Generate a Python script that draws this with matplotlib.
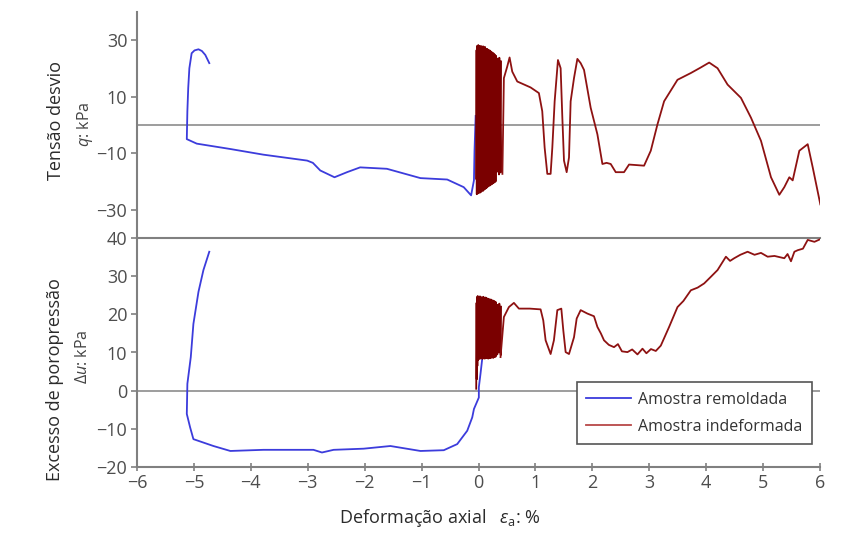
import matplotlib
matplotlib.use("Agg")
import matplotlib.pyplot as plt
from matplotlib.lines import Line2D

plt.rcParams['font.family'] = ['Open Sans', 'DejaVu Sans']
plt.rcParams['mathtext.fontset'] = 'custom'
plt.rcParams['mathtext.rm'] = 'Open Sans'
plt.rcParams['mathtext.it'] = 'Open Sans:italic'

# ---------------- data ----------------
# Remolded sample (blue) - deviator stress q (kPa) vs axial strain (%)
rem_q_eps = [-4.73, -4.80, -4.86, -4.92, -4.99, -5.04, -5.08, -5.10, -5.115, -5.125,
             -4.95, -4.36, -3.78, -3.01, -2.91, -2.78, -2.53, -2.31, -2.08, -1.61,
             -1.02, -0.55, -0.26, -0.13, -0.08, -0.07, -0.05]
rem_q = [21.9, 24.8, 26.2, 26.8, 26.4, 25.4, 20.1, 13.1, 4.9, -5.0,
         -6.6, -8.5, -10.5, -12.6, -13.4, -16.1, -18.5, -16.7, -15.0, -15.5,
         -18.8, -19.3, -22.0, -24.9, -19.6, -9.1, 3.2]

# Remolded sample (blue) - excess pore pressure du (kPa)
rem_u_eps = [-4.73, -4.833, -4.92, -5.009, -5.055, -5.115, -5.125, -5.067, -5.009, -4.657,
             -4.36, -3.78, -2.90, -2.75, -2.546, -2.018, -1.548, -1.02, -0.61, -0.374,
             -0.198, -0.11, -0.08, 0.006, 0.006, 0.035, 0.065]
rem_u = [36.4, 31.6, 25.9, 17.5, 8.8, 1.8, -6.1, -9.6, -12.7, -14.5,
         -15.8, -15.5, -15.5, -16.2, -15.5, -15.2, -14.5, -15.8, -15.6, -14.0,
         -10.5, -7.0, -4.8, -1.8, 0.9, 4.4, 8.3]

# Undisturbed sample (red) - cyclic phase: strain at each cycle, peaks and troughs
cyc_eps = [-0.04, -0.03, -0.02, -0.01, 0.00, 0.01, 0.02, 0.03, 0.04, 0.05,
           0.06, 0.07, 0.08, 0.09, 0.10, 0.11, 0.12, 0.13, 0.14, 0.15,
           0.16, 0.17, 0.18, 0.19, 0.20, 0.21, 0.22, 0.23, 0.24, 0.25,
           0.26, 0.27, 0.28, 0.29, 0.30, 0.33, 0.36, 0.39]
cyc_q_max = [26.5, 28.0, 27.0, 28.3, 27.2, 27.8, 28.0, 26.8, 27.5, 27.9,
             26.9, 27.4, 27.8, 26.5, 27.2, 27.6, 26.8, 27.0, 26.2, 26.9,
             26.4, 25.8, 26.5, 25.9, 26.3, 25.4, 25.9, 25.2, 25.6, 24.8,
             25.3, 24.6, 24.9, 24.2, 24.5, 23.5, 23.8, 22.5]
cyc_q_min = [-19.0, -24.5, -23.8, -24.2, -23.5, -24.0, -23.2, -23.9, -22.8, -23.6,
             -23.0, -22.5, -23.3, -22.2, -22.9, -21.8, -22.6, -21.5, -22.3, -21.2,
             -21.9, -21.0, -21.6, -20.8, -21.4, -20.5, -21.1, -20.3, -20.9, -20.0,
             -20.6, -19.8, -20.3, -19.5, -20.0, -16.5, -17.5, -16.8]
cyc_u_max = [23.0, 24.5, 24.8, 24.2, 24.6, 24.0, 24.7, 24.3, 24.5, 23.9,
             24.4, 24.1, 24.6, 23.8, 24.3, 24.0, 24.4, 23.7, 24.2, 23.9,
             24.1, 23.6, 24.0, 23.8, 23.5, 23.9, 23.4, 23.7, 23.3, 23.6,
             23.2, 23.5, 23.0, 23.3, 23.1, 22.5, 22.8, 22.0]
cyc_u_min = [0.5, 3.0, 6.5, 8.0, 8.6, 8.3, 8.8, 8.4, 8.9, 8.5,
             8.7, 8.3, 8.8, 8.6, 8.9, 8.4, 8.7, 8.5, 8.9, 8.6,
             8.8, 8.4, 8.7, 8.9, 8.5, 8.8, 8.6, 9.0, 8.7, 8.9,
             8.6, 9.0, 8.8, 9.1, 8.9, 9.5, 10.0, 9.3]

# Undisturbed sample (red) - monotonic phase, q
und_q_eps = [0.42, 0.446, 0.505, 0.546, 0.593, 0.681, 0.915, 1.061, 1.12, 1.162,
             1.209, 1.267, 1.297, 1.338, 1.396, 1.443, 1.473, 1.502, 1.549, 1.590,
             1.619, 1.678, 1.737, 1.795, 1.854, 1.971, 2.089, 2.177, 2.250, 2.323,
             2.411, 2.557, 2.645, 2.78, 2.909, 3.027, 3.144, 3.261, 3.496, 3.731,
             3.90, 4.053, 4.200, 4.376, 4.611, 4.787, 4.963, 5.139, 5.285, 5.373,
             5.461, 5.520, 5.637, 5.784, 5.872, 6.006]
und_q = [-17.3, 16.6, 20.7, 23.9, 18.9, 15.4, 13.3, 11.3, 4.9, -8.0,
         -17.3, -17.3, -8.0, 8.4, 23.0, 20.1, 2.6, -12.6, -16.7, -11.5,
         8.4, 16.6, 23.4, 21.9, 19.5, 6.1, -3.3, -13.8, -13.4, -13.8,
         -16.7, -16.7, -14.0, -14.2, -14.4, -9.1, 0.2, 8.4, 16.0, 18.4,
         20.3, 22.1, 20.1, 14.3, 9.6, 2.6, -5.6, -18.5, -24.7, -22.0,
         -18.5, -19.6, -9.1, -6.8, -15.0, -28.1]

# Undisturbed sample (red) - monotonic phase, du
und_u_eps = [0.387, 0.446, 0.534, 0.622, 0.710, 0.90, 1.091, 1.138, 1.179, 1.267,
             1.325, 1.385, 1.455, 1.490, 1.531, 1.590, 1.678, 1.725, 1.795, 1.913,
             2.029, 2.089, 2.15, 2.205, 2.29, 2.381, 2.45, 2.52, 2.617, 2.70,
             2.793, 2.881, 2.95, 3.03, 3.115, 3.203, 3.349, 3.496, 3.60, 3.731,
             3.85, 3.965, 4.08, 4.200, 4.347, 4.42, 4.493, 4.60, 4.728, 4.85,
             4.963, 5.080, 5.20, 5.373, 5.43, 5.490, 5.55, 5.608, 5.70, 5.784,
             5.902, 6.006]
und_u = [8.8, 19.3, 21.9, 23.0, 21.5, 21.5, 21.3, 18.4, 13.2, 9.6,
         13.2, 21.1, 21.5, 15.8, 10.1, 9.6, 14.0, 18.9, 21.1, 20.2,
         19.5, 16.7, 15.0, 13.2, 12.0, 11.4, 12.2, 10.3, 10.1, 10.8,
         9.5, 11.0, 9.8, 10.9, 10.4, 11.8, 16.7, 21.9, 23.5, 26.3,
         27.0, 28.1, 29.8, 31.6, 35.1, 34.0, 34.7, 35.6, 36.4, 35.6,
         36.1, 35.1, 35.3, 34.7, 35.8, 33.9, 36.4, 36.8, 37.2, 39.5,
         39.0, 39.7]

x_ticks = [-6, -5, -4, -3, -2, -1, 0, 1, 2, 3, 4, 5, 6]
q_ticks = [-30, -10, 10, 30]
u_ticks = [-20, -10, 0, 10, 20, 30, 40]

# build cyclic paths from peak/trough lists
cyc_path_eps, cyc_path_q, cyc_path_u = [], [], []
for e, qmx, qmn, umx, umn in zip(cyc_eps, cyc_q_max, cyc_q_min, cyc_u_max, cyc_u_min):
    cyc_path_eps += [e, e + 0.006]
    cyc_path_q += [qmn, qmx]
    cyc_path_u += [umn, umx]

# ---------------- figure ----------------
BLUE = '#3c3cdc'
RED = '#8e1212'
GRAY = '#808080'
TICKC = '#4d4d4d'

fig = plt.figure(figsize=(8.61, 5.39), dpi=100)
L, R = 137 / 861, 820 / 861
ax1 = fig.add_axes([L, 1 - 238 / 539, R - L, 226 / 539])
ax2 = fig.add_axes([L, 1 - 467 / 539, R - L, 229 / 539], sharex=ax1)

for ax in (ax1, ax2):
    ax.axhline(0, color='#8c8c8c', lw=1.2, zorder=1)
    ax.spines['right'].set_visible(False)
    for s in ('left', 'bottom', 'top'):
        ax.spines[s].set_color(GRAY)
        ax.spines[s].set_linewidth(1.5)
    ax.tick_params(axis='y', direction='out', length=4, width=1.2, color=GRAY,
                   labelcolor=TICKC, labelsize=13, pad=3)

ax1.spines['top'].set_visible(False)
ax1.spines['bottom'].set_visible(False)

ax1.plot(rem_q_eps, rem_q, color=BLUE, lw=1.3, zorder=3)
ax1.plot(cyc_path_eps, cyc_path_q, color='#7a0000', lw=1.3, zorder=4)
ax1.plot(und_q_eps, und_q, color=RED, lw=1.3, zorder=4)
ax1.set_ylim(-40, 40)
ax1.set_yticks(q_ticks)
ax1.tick_params(axis='x', bottom=False, labelbottom=False)

ax2.plot(rem_u_eps, rem_u, color=BLUE, lw=1.3, zorder=3)
ax2.plot(cyc_path_eps, cyc_path_u, color='#7a0000', lw=1.3, zorder=4)
ax2.plot(und_u_eps, und_u, color=RED, lw=1.3, zorder=4)
ax2.set_ylim(-20, 40)
ax2.set_yticks(u_ticks)
ax2.set_xlim(-6, 6)
ax2.set_xticks(x_ticks)
ax2.tick_params(axis='x', direction='inout', length=6, width=1.2, color=GRAY,
                labelcolor=TICKC, labelsize=13, pad=2)

handles = [Line2D([], [], color=BLUE, lw=1.3), Line2D([], [], color='#b84848', lw=1.3)]
leg = ax2.legend(handles, ['Amostra remoldada', 'Amostra indeformada'],
                 loc='upper left', bbox_to_anchor=(0.644, 0.371), fontsize=11.5,
                 frameon=True, fancybox=False, framealpha=1, edgecolor='#555555',
                 handlelength=2.8, handletextpad=0.45, borderpad=0.6,
                 labelspacing=0.7, borderaxespad=0)
leg.get_frame().set_linewidth(1.2)
leg.set_zorder(10)
for t in leg.get_texts():
    t.set_color('#333333')

# axis labels
fig.text(56 / 861, 1 - 121 / 539, 'Tensão desvio', rotation=90, ha='center', va='center',
         fontsize=13, color='#2b2b2b')
fig.text(85 / 861, 1 - 124 / 539, r'$q$: kPa', rotation=90, ha='center', va='center',
         fontsize=11.5, color='#444444')
fig.text(55 / 861, 1 - 380 / 539, 'Excesso de poropressão', rotation=90, ha='center',
         va='center', fontsize=13, color='#2b2b2b')
fig.text(83 / 861, 1 - 357 / 539, r'$\Delta u$: kPa', rotation=90, ha='center',
         va='center', fontsize=11.5, color='#444444')
fig.text(440 / 861, 1 - 518 / 539, r'Deformação axial   $\varepsilon_{\mathrm{a}}$: %',
         ha='center', va='center', fontsize=13, color='#2b2b2b')

fig.savefig('out.png', dpi=100, facecolor='white')
